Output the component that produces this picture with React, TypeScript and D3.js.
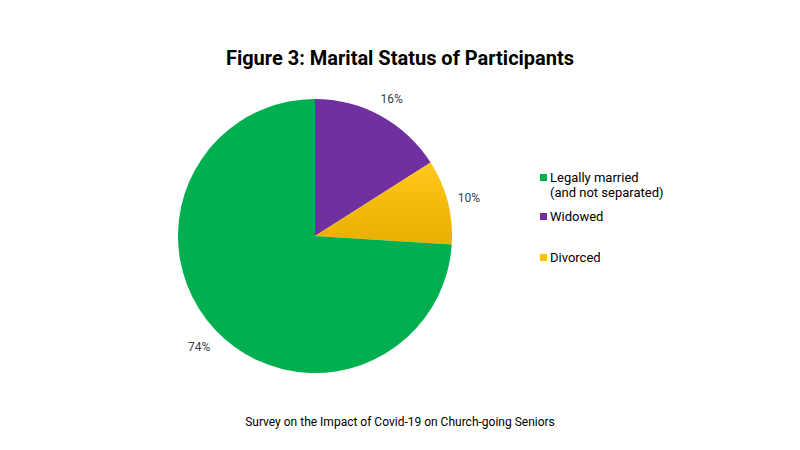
import React from "react";
import * as d3 from "d3";

const sliceNames = ["Widowed", "Divorced", "Legally married"];
const sliceValues = [16, 10, 74];
const sliceColors = ["#7030A0", "#FFC000", "#00B050"];
const legendNames = ["Legally married|(and not separated)", "Widowed", "Divorced"];
const legendColors = ["#00B050", "#7030A0", "#FFC000"];
const legendY = [182, 221, 262];

const W = 800, H = 450;
const cx = 315, cy = 236, R = 137, LR = 159;
const FONT = "Roboto, 'Noto Sans', sans-serif";

export default function App() {
  const pie = d3.pie<number>().sort(null).value((d) => d)(sliceValues);
  const arc = d3.arc<d3.PieArcDatum<number>>().innerRadius(0).outerRadius(R);
  const total = d3.sum(sliceValues);
  return (
    <svg width={W} height={H} style={{ position: "absolute", left: 0, top: 0, background: "#fff" }}>
      <defs>
        <linearGradient id="yellowGrad" x1="0" y1="0" x2="0" y2="1">
          <stop offset="0%" stopColor="#FFC81C" />
          <stop offset="100%" stopColor="#E8AE00" />
        </linearGradient>
      </defs>
      <text x={400} y={65} textAnchor="middle" fontFamily={FONT} fontWeight="bold" fontSize={20} fill="#000">
        Figure 3: Marital Status of Participants
      </text>
      <g transform={`translate(${cx},${cy})`}>
        {pie.map((p, i) => (
          <path key={sliceNames[i]} d={arc(p) || ""} fill={i === 1 ? "url(#yellowGrad)" : sliceColors[i]} />
        ))}
        {pie.map((p, i) => {
          const a = (p.startAngle + p.endAngle) / 2;
          const x = Math.sin(a) * LR;
          const y = -Math.cos(a) * LR;
          return (
            <text key={"l" + i} x={x} y={y + 6} textAnchor="middle" fontFamily={FONT} fontSize={12} fill="#404040">
              {Math.round((sliceValues[i] / total) * 100)}%
            </text>
          );
        })}
      </g>
      {legendNames.map((n, i) => {
        const lines = n.split("|");
        return (
          <g key={n}>
            <rect x={540} y={legendY[i] - 8} width={7} height={7} fill={legendColors[i]} />
            {lines.map((ln, j) => (
              <text key={j} x={550} y={legendY[i] + j * 15} fontFamily={FONT} fontSize={13} fill="#000">
                {ln}
              </text>
            ))}
          </g>
        );
      })}
      <text x={400} y={426} textAnchor="middle" fontFamily={FONT} fontSize={12} fill="#000">
        Survey on the Impact of Covid-19 on Church-going Seniors
      </text>
    </svg>
  );
}
